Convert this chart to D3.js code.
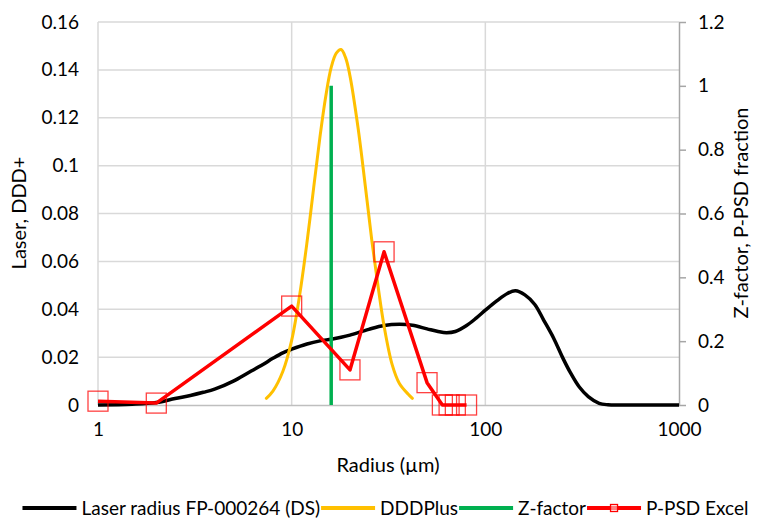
<!DOCTYPE html>
<html>
<head>
<meta charset="utf-8">
<script src="https://cdn.jsdelivr.net/npm/d3@7"></script>
<style>
  body { margin: 0; background: #fff; }
  text { font-family: Lato, "Open Sans", sans-serif; fill: #000; }
</style>
</head>
<body>
<div id="chart"></div>
<script>
// Laser radius FP-000264 (DS)  -> left axis
var laserRadius = [1, 1.5, 2, 2.5, 3, 3.5, 4, 5, 6, 7, 8, 9, 10, 12, 14, 16, 18, 20, 25, 30, 36, 42, 50, 57, 63, 70, 80, 90, 100, 115, 130, 143, 160, 180, 200, 225, 250, 275, 305, 340, 387, 430, 500, 700, 1000];
var laserValue  = [0, 0.0003, 0.001, 0.0027, 0.004, 0.0053, 0.0066, 0.01, 0.0136, 0.0166, 0.0195, 0.0218, 0.0233, 0.0255, 0.0268, 0.0275, 0.0283, 0.0292, 0.0316, 0.0332, 0.0337, 0.0333, 0.0318, 0.0307, 0.0302, 0.0307, 0.0332, 0.0364, 0.0396, 0.0436, 0.0466, 0.0477, 0.046, 0.042, 0.0355, 0.028, 0.02, 0.0135, 0.0076, 0.0035, 0.0007, 0.0001, 0, 0, 0];

// DDDPlus -> left axis
var dddRadius = [7.4, 8, 9, 10, 11, 12, 13, 14, 15, 16, 17, 18, 19, 20, 22, 24, 26, 28, 30, 33, 36, 40, 42];
var dddValue  = [0.0028, 0.0058, 0.014, 0.027, 0.046, 0.068, 0.091, 0.112, 0.129, 0.141, 0.147, 0.1485, 0.145, 0.1375, 0.116, 0.0915, 0.068, 0.049, 0.033, 0.017, 0.009, 0.0045, 0.0028];

// Z-factor -> right axis
var zRadius = [16, 16];
var zValue  = [0, 1];

// P-PSD Excel -> right axis
var psdRadius = [1, 2, 10, 20, 30, 50, 60, 65, 70, 80];
var psdValue  = [0.012, 0.006, 0.31, 0.11, 0.48, 0.07, 0, 0, 0, 0];

var xTicks = [1, 10, 100, 1000];
var yLeftTicks = [0, 0.02, 0.04, 0.06, 0.08, 0.1, 0.12, 0.14, 0.16];
var yRightTicks = [0, 0.2, 0.4, 0.6, 0.8, 1, 1.2];

var legendNames = ['Laser radius FP-000264 (DS)', 'DDDPlus', 'Z-factor', 'P-PSD Excel'];
var colors = ['#000000', '#ffc000', '#00b050', '#ff0000'];

var width = 761, height = 521;
var margin = {top: 22, right: 82, bottom: 116, left: 98};
var w = width - margin.left - margin.right;
var h = height - margin.top - margin.bottom;

var svg = d3.select('#chart').append('svg')
  .attr('width', width)
  .attr('height', height);

var g = svg.append('g').attr('transform', 'translate(' + margin.left + ',' + margin.top + ')');

var x = d3.scaleLog().domain([1, 1000]).range([0, w]);
var yL = d3.scaleLinear().domain([0, 0.16]).range([h, 0]);
var yR = d3.scaleLinear().domain([0, 1.2]).range([h, 0]);

// gridlines
g.append('g').selectAll('line')
  .data(yLeftTicks.slice(1))
  .enter().append('line')
  .attr('x1', 0).attr('x2', w)
  .attr('y1', function(d) { return yL(d); })
  .attr('y2', function(d) { return yL(d); })
  .attr('stroke', '#d9d9d9').attr('stroke-width', 1.5);

g.append('g').selectAll('line')
  .data(xTicks.slice(0, 3))
  .enter().append('line')
  .attr('x1', function(d) { return x(d); })
  .attr('x2', function(d) { return x(d); })
  .attr('y1', 0).attr('y2', h)
  .attr('stroke', '#d9d9d9').attr('stroke-width', 1.5);

// bottom axis
var xAxis = g.append('g')
  .attr('transform', 'translate(0,' + h + ')')
  .call(d3.axisBottom(x).tickValues(xTicks).tickFormat(d3.format('d')).tickSize(0).tickPadding(18));
xAxis.select('.domain').attr('stroke', '#bfbfbf').attr('stroke-width', 1.5);
xAxis.selectAll('text').style('font-size', '19px');

// left axis
var yAxisL = g.append('g')
  .call(d3.axisLeft(yL).tickValues(yLeftTicks).tickFormat(d3.format('~g')).tickSize(0).tickPadding(19));
yAxisL.select('.domain').remove();
yAxisL.selectAll('text').style('font-size', '19px');

// right axis
var yAxisR = g.append('g')
  .attr('transform', 'translate(' + w + ',0)')
  .call(d3.axisRight(yR).tickValues(yRightTicks).tickFormat(d3.format('~g')).tickSize(7).tickSizeOuter(0).tickPadding(12));
yAxisR.select('.domain').attr('stroke', '#a6a6a6').attr('stroke-width', 1.5);
yAxisR.selectAll('line').attr('stroke', '#a6a6a6').attr('stroke-width', 1.5);
yAxisR.selectAll('text').style('font-size', '19px');

// axis titles
svg.append('text')
  .attr('x', 388).attr('y', 472)
  .attr('text-anchor', 'middle')
  .style('font-size', '20px')
  .text('Radius (µm)');

svg.append('text')
  .attr('transform', 'translate(26,213) rotate(-90)')
  .attr('text-anchor', 'middle')
  .style('font-size', '20px')
  .text('Laser, DDD+');

svg.append('text')
  .attr('transform', 'translate(748,213) rotate(-90)')
  .attr('text-anchor', 'middle')
  .style('font-size', '20px')
  .text('Z-factor, P-PSD fraction');

// series
var smoothL = d3.line()
  .x(function(d) { return x(d[0]); })
  .y(function(d) { return yL(d[1]); })
  .curve(d3.curveCatmullRom.alpha(0.5));

var straightR = d3.line()
  .x(function(d) { return x(d[0]); })
  .y(function(d) { return yR(d[1]); });

g.append('path')
  .datum(d3.zip(laserRadius, laserValue))
  .attr('d', smoothL)
  .attr('fill', 'none').attr('stroke', colors[0]).attr('stroke-width', 3.5)
  .attr('stroke-linejoin', 'round');

g.append('path')
  .datum(d3.zip(dddRadius, dddValue))
  .attr('d', smoothL)
  .attr('fill', 'none').attr('stroke', colors[1]).attr('stroke-width', 3)
  .attr('stroke-linecap', 'round');

g.append('path')
  .datum(d3.zip(zRadius, zValue))
  .attr('d', straightR)
  .attr('fill', 'none').attr('stroke', colors[2]).attr('stroke-width', 3.5);

g.append('path')
  .datum(d3.zip(psdRadius, psdValue))
  .attr('d', straightR)
  .attr('fill', 'none').attr('stroke', colors[3]).attr('stroke-width', 3.5)
  .attr('stroke-linejoin', 'round');

g.append('g').selectAll('rect')
  .data(d3.zip(psdRadius, psdValue))
  .enter().append('rect')
  .attr('x', function(d) { return x(d[0]) - 10; })
  .attr('y', function(d) { return yR(d[1]) - 10; })
  .attr('width', 20).attr('height', 20)
  .attr('fill', 'none')
  .attr('stroke', colors[3]).attr('stroke-opacity', 0.75).attr('stroke-width', 1.3);

// legend
var legend = svg.append('g').attr('transform', 'translate(0,508)');
var items = legend.selectAll('g')
  .data(legendNames)
  .enter().append('g');

items.append('line')
  .attr('x1', 0).attr('x2', 54)
  .attr('stroke', function(d, i) { return colors[i]; })
  .attr('stroke-width', 4);

items.filter(function(d, i) { return i === 3; })
  .append('rect')
  .attr('x', 23.5).attr('y', -3.5).attr('width', 7).attr('height', 7)
  .attr('fill', '#fff').attr('fill-opacity', 0.5)
  .attr('stroke', colors[3]).attr('stroke-width', 1.3);

items.append('text')
  .attr('x', 59).attr('dy', '0.35em')
  .style('font-size', '19px')
  .text(function(d) { return d; });

var pos = 0, offs = [];
items.each(function() {
  offs.push(pos);
  pos += 59 + d3.select(this).select('text').node().getComputedTextLength() + 1;
});
var start = 386 - pos / 2;
items.attr('transform', function(d, i) { return 'translate(' + (start + offs[i]) + ',0)'; });
</script>
</body>
</html>
